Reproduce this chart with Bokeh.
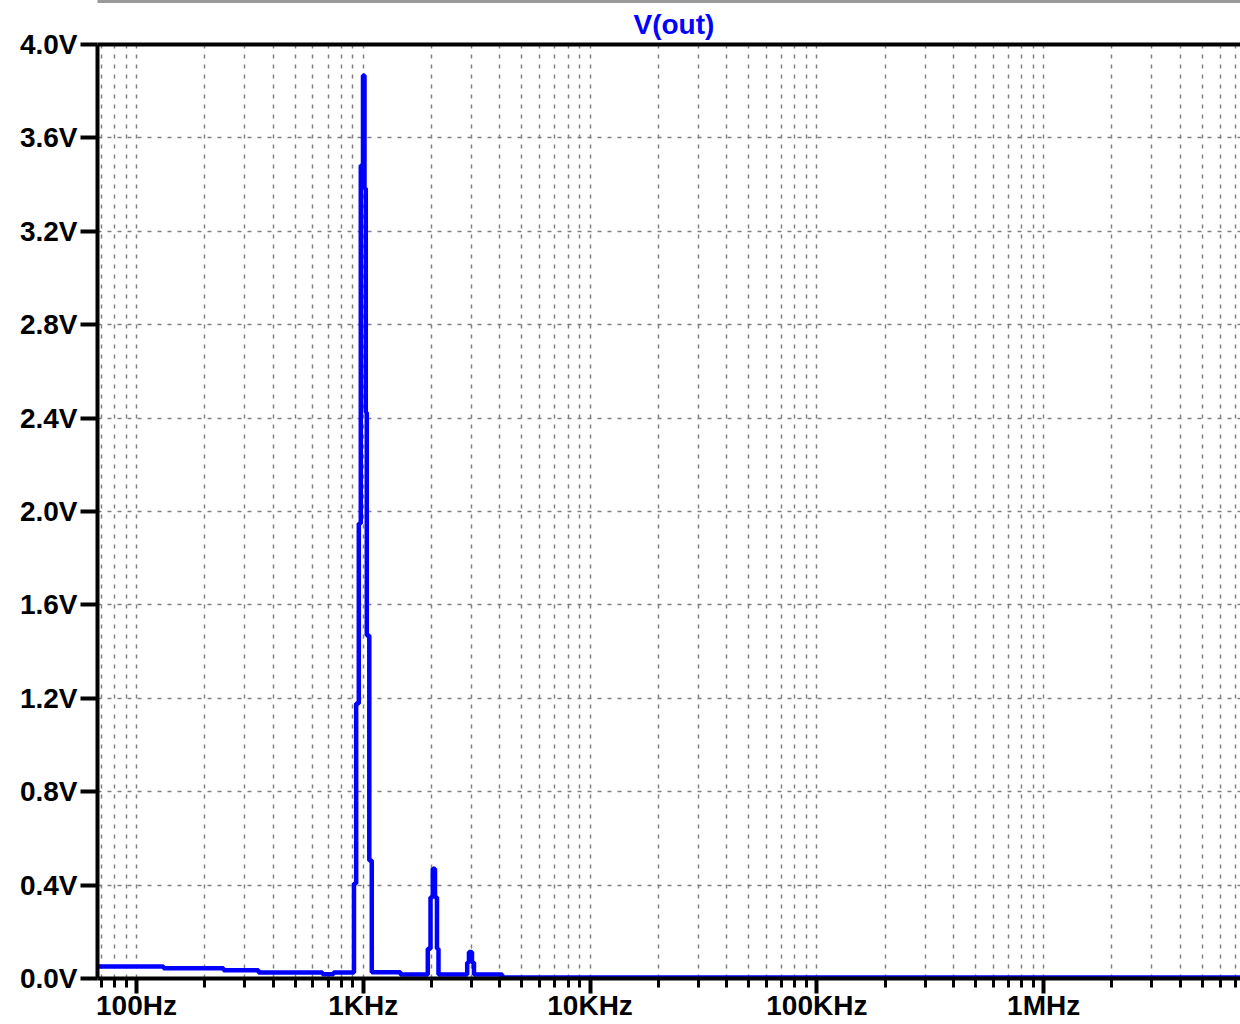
from bokeh.plotting import figure
from bokeh.models import Range1d, FixedTicker, PrintfTickFormatter, LogAxis, Title
from bokeh.embed import file_html
from bokeh.resources import INLINE

# ---- data (FFT magnitude of V(out)) ----
freq_hz = [60, 131.6, 241.9, 345.1, 660.8, 739.0,
           909.9, 930.4, 955.4, 974.9, 997.0, 1012.3, 1025.7, 1036.2, 1062.8, 1090.1,
           1459, 1925, 1979, 2025, 2071, 2113, 2146,
           2872, 2924, 3015, 3077, 4098, 1.0e7]
vout_v = [0.051, 0.044, 0.035, 0.026, 0.018, 0.026,
          0.407, 1.178, 1.949, 3.482, 3.867, 3.383, 2.424, 1.469, 0.505, 0.027,
          0.017, 0.127, 0.348, 0.470, 0.348, 0.127, 0.017,
          0.069, 0.113, 0.069, 0.017, 0.004, 0.004]

x_major_ticks = [100, 1000, 10000, 100000, 1000000]
x_major_labels = ["100Hz", "1KHz", "10KHz", "100KHz", "1MHz"]
x_minor_ticks = [m * 10 ** k for k in range(1, 7) for m in range(2, 10)]
y_ticks = [0.0, 0.4, 0.8, 1.2, 1.6, 2.0, 2.4, 2.8, 3.2, 3.6, 4.0]

x_start, x_end = 67.3, 7.38e6
y_start, y_end = 0.0, 4.0

FONT = "Liberation Sans"
GRID = "#808080"

p = figure(width=1240, height=1024, x_axis_type="log",
           x_range=Range1d(x_start, x_end), y_range=Range1d(y_start, y_end),
           output_backend="svg", toolbar_location=None, title=None,
           min_border_left=97, min_border_right=0, min_border_top=44, min_border_bottom=46,
           background_fill_color="white", border_fill_color="white")
p.outline_line_color = None

# tickers
xt = FixedTicker(ticks=x_major_ticks, minor_ticks=x_minor_ticks)
yt = FixedTicker(ticks=y_ticks, minor_ticks=[])
p.xaxis.ticker = xt
p.xgrid.ticker = xt
p.yaxis.ticker = yt
p.ygrid.ticker = yt

p.xaxis.major_label_overrides = {t: l for t, l in zip(x_major_ticks, x_major_labels)}
p.yaxis.formatter = PrintfTickFormatter(format="%.1fV")

for ax in (p.xaxis, p.yaxis):
    ax.axis_line_width = 4
    ax.axis_line_color = "black"
    ax.major_tick_line_width = 4
    ax.major_tick_line_color = "black"
    ax.major_tick_in = 0
    ax.minor_tick_in = 0
    ax.major_label_text_font = FONT
    ax.major_label_text_font_size = "28px"
    ax.major_label_text_font_style = "bold"
    ax.major_label_text_color = "black"

p.yaxis.major_tick_out = 17
p.yaxis.minor_tick_out = 0
p.yaxis.major_label_standoff = 3

p.xaxis.major_tick_out = 15
p.xaxis.minor_tick_out = 9
p.xaxis.minor_tick_line_width = 3
p.xaxis.minor_tick_line_color = "black"
p.xaxis.major_label_standoff = -4


def bare_axis(color, width):
    a = LogAxis(ticker=FixedTicker(ticks=[], minor_ticks=[]))
    a.axis_line_width = width
    a.axis_line_color = color
    a.major_tick_out = 0
    a.major_tick_in = 0
    a.minor_tick_out = 0
    a.minor_tick_in = 0
    a.major_label_standoff = 0
    a.major_label_text_font_size = "0px"
    return a


# top frame line
p.add_layout(bare_axis("black", 4), "above")

# title
t = Title(text="V(out)", align="left", offset=536, text_font=FONT,
          text_font_size="28px", text_font_style="bold", text_color="#0000ff",
          standoff=10)
p.add_layout(t, "above")

# window edge line at the very top
p.add_layout(bare_axis("#9a9a9a", 3), "above")

# grids
for g in (p.xgrid, p.ygrid):
    g.grid_line_color = GRID
    g.grid_line_width = 1.5
    g.grid_line_dash = "4 6"
p.xgrid.minor_grid_line_color = GRID
p.xgrid.minor_grid_line_width = 1.5
p.xgrid.minor_grid_line_dash = "4 6"

p.step(freq_hz, vout_v, mode="after", line_color="#0000ff", line_width=4.5)

open("out.html", "w").write(file_html(p, INLINE))
